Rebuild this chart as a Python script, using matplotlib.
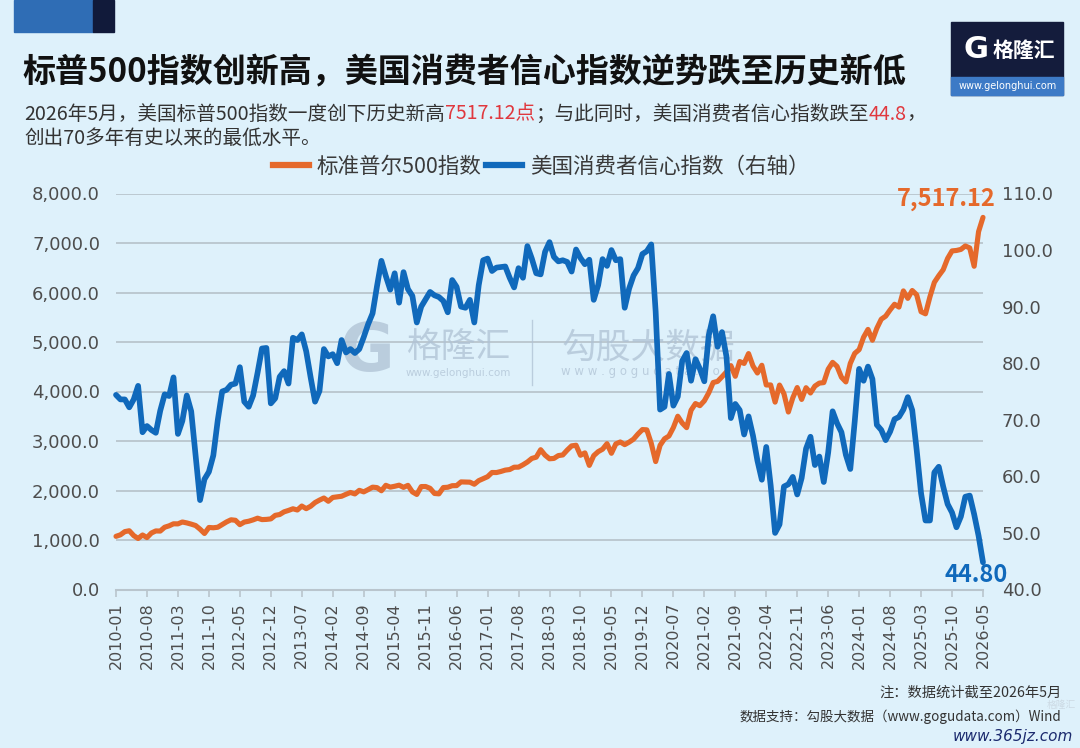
import matplotlib
matplotlib.use('Agg')
import matplotlib.pyplot as plt
from matplotlib.patches import Rectangle
from matplotlib.lines import Line2D

# ---------------- data ----------------
months = [f"{2010 + i // 12}-{i % 12 + 1:02d}" for i in range(197)]
tick_labels = months[::7]

sp500 = [
    1073.87, 1104.49, 1169.43, 1186.69, 1089.41, 1030.71, 1101.60, 1049.33, 1141.20, 1183.26, 1180.55, 1257.64,
    1286.12, 1327.22, 1325.83, 1363.61, 1345.20, 1320.64, 1292.28, 1218.89, 1131.42, 1253.30, 1246.96, 1257.60,
    1312.41, 1365.68, 1408.47, 1397.91, 1310.33, 1362.16, 1379.32, 1406.58, 1440.67, 1412.16, 1416.18, 1426.19,
    1498.11, 1514.68, 1569.19, 1597.57, 1630.74, 1606.28, 1685.73, 1632.97, 1681.55, 1756.54, 1805.81, 1848.36,
    1782.59, 1859.45, 1872.34, 1883.95, 1923.57, 1960.23, 1930.67, 2003.37, 1972.29, 2018.05, 2067.56, 2058.90,
    1994.99, 2104.50, 2067.89, 2085.51, 2107.39, 2063.11, 2103.84, 1972.18, 1920.03, 2079.36, 2080.41, 2043.94,
    1940.24, 1932.23, 2059.74, 2065.30, 2096.95, 2098.86, 2173.60, 2170.95, 2168.27, 2126.15, 2198.81, 2238.83,
    2278.87, 2363.64, 2362.72, 2384.20, 2411.80, 2423.41, 2470.30, 2471.65, 2519.36, 2575.26, 2647.58, 2673.61,
    2823.81, 2713.83, 2640.87, 2648.05, 2705.27, 2718.37, 2816.29, 2901.52, 2913.98, 2711.74, 2760.17, 2506.85,
    2704.10, 2784.49, 2834.40, 2945.83, 2752.06, 2941.76, 2980.38, 2926.46, 2976.74, 3037.56, 3140.98, 3230.78,
    3225.52, 2954.22, 2584.59, 2912.43, 3044.31, 3100.29, 3271.12, 3500.31, 3363.00, 3269.96, 3621.63, 3756.07,
    3714.24, 3811.15, 3972.89, 4181.17, 4204.11, 4297.50, 4395.26, 4522.68, 4307.54, 4605.38, 4567.00, 4766.18,
    4515.55, 4373.94, 4530.41, 4131.93, 4132.15, 3785.38, 4130.29, 3955.00, 3585.62, 3871.98, 4080.11, 3839.50,
    4076.60, 3970.15, 4109.31, 4169.48, 4179.83, 4450.38, 4588.96, 4507.66, 4288.05, 4193.80, 4567.80, 4769.83,
    4845.65, 5096.27, 5254.35, 5035.69, 5277.51, 5460.48, 5522.30, 5648.40, 5762.48, 5705.45, 6032.38, 5881.63,
    6040.53, 5954.50, 5611.85, 5569.06, 5911.69, 6204.95, 6339.39, 6460.26, 6688.46, 6840.20, 6849.09, 6870.00,
    6940.00, 6900.00, 6530.00, 7230.00, 7517.12,
]

sentiment = [
    74.4, 73.6, 73.6, 72.2, 73.6, 76.0, 67.8, 68.9, 68.2, 67.7, 71.6, 74.5,
    74.2, 77.5, 67.5, 69.8, 74.3, 71.5, 63.7, 55.8, 59.5, 60.8, 63.7, 69.9,
    75.0, 75.3, 76.2, 76.4, 79.3, 73.2, 72.3, 74.3, 78.3, 82.6, 82.7, 72.9,
    73.8, 77.6, 78.6, 76.4, 84.5, 84.1, 85.1, 82.1, 77.5, 73.2, 75.1, 82.5,
    81.2, 81.6, 80.0, 84.1, 81.9, 82.5, 81.8, 82.5, 84.6, 86.9, 88.8, 93.6,
    98.1, 95.4, 93.0, 95.9, 90.7, 96.1, 93.1, 91.9, 87.2, 90.0, 91.3, 92.6,
    92.0, 91.7, 91.0, 89.0, 94.7, 93.5, 90.0, 89.8, 91.2, 87.2, 93.8, 98.2,
    98.5, 96.3, 96.9, 97.0, 97.1, 95.1, 93.4, 96.8, 95.1, 100.7, 98.5, 95.9,
    95.7, 99.7, 101.4, 98.8, 98.0, 98.2, 97.9, 96.2, 100.1, 98.6, 97.5, 98.3,
    91.2, 93.8, 98.4, 97.2, 100.0, 98.2, 98.4, 89.8, 93.2, 95.5, 96.8, 99.3,
    99.8, 101.0, 89.1, 71.8, 72.3, 78.1, 72.5, 74.1, 80.4, 81.8, 76.9, 80.7,
    79.0, 76.8, 84.9, 88.3, 82.9, 85.5, 81.2, 70.3, 72.8, 71.7, 67.4, 70.6,
    67.2, 62.8, 59.4, 65.2, 58.4, 50.0, 51.5, 58.2, 58.6, 59.9, 56.8, 59.7,
    64.9, 67.0, 62.0, 63.5, 59.0, 64.2, 71.5, 69.4, 67.8, 63.8, 61.3, 69.7,
    79.0, 76.9, 79.4, 77.2, 69.1, 68.2, 66.4, 67.9, 70.1, 70.5, 71.8, 74.0,
    71.7, 64.7, 57.0, 52.2, 52.2, 60.7, 61.7, 58.2, 55.1, 53.6, 51.0, 52.9,
    56.4, 56.6, 53.3, 49.5, 44.8,
]

left_ticks = [0, 1000, 2000, 3000, 4000, 5000, 6000, 7000, 8000]
right_ticks = [40, 50, 60, 70, 80, 90, 100, 110]

series_names = ["标准普尔500指数", "美国消费者信心指数（右轴）"]

# ---------------- style ----------------
BG = "#def1fb"
ORANGE = "#e5692b"
BLUE = "#1069bb"
GRID = "#b9c5cd"
TICKC = "#4d4d4d"
CJK = ["Noto Sans CJK SC", "DejaVu Sans"]

W, H = 1080, 748
fig = plt.figure(figsize=(W / 100, H / 100), dpi=100, facecolor=BG)


def fx(px):
    return px / W


def fy(py):
    return 1 - py / H


# decorative corner blocks
fig.patches.append(Rectangle((fx(14), fy(32)), fx(93) - fx(14), 32 / H,
                             transform=fig.transFigure, color="#2f6db5", zorder=1))
fig.patches.append(Rectangle((fx(93), fy(32)), fx(114) - fx(93), 32 / H,
                             transform=fig.transFigure, color="#111a3a", zorder=1))

# logo
fig.patches.append(Rectangle((fx(951), fy(95)), fx(1063) - fx(951), (95 - 22) / H,
                             transform=fig.transFigure, color="#141c3c", zorder=1))
fig.patches.append(Rectangle((fx(951), fy(95)), fx(1063) - fx(951), (95 - 77) / H,
                             transform=fig.transFigure, color="#3d7ac6", zorder=2))
fig.text(fx(976), fy(50), "G", color="white", fontsize=22, fontweight="bold",
         family="DejaVu Sans", ha="center", va="center", zorder=3)
fig.text(fx(1024), fy(50), "格隆汇", color="white", fontsize=15, fontweight="bold",
         family=CJK, ha="center", va="center", zorder=3)
fig.text(fx(1008), fy(86), "www.gelonghui.com", color="white", fontsize=7,
         family="DejaVu Sans", ha="center", va="center", zorder=3)

# title
fig.text(fx(22), fy(73), "标普500指数创新高，美国消费者信心指数逆势跌至历史新低",
         fontsize=23.8, fontweight="bold", family=CJK, color="#111111",
         ha="left", va="center")

renderer = fig.canvas.get_renderer()


def rich(x_px, y_px, parts, **kw):
    x = x_px
    for s, c in parts:
        t = fig.text(fx(x), fy(y_px), s, color=c, **kw)
        x += t.get_window_extent(renderer).width


SUBC = "#333333"
RED = "#e0383e"
rich(24, 114, [("2026年5月，美国标普500指数一度创下历史新高", SUBC), ("7517.12点", RED),
               ("；与此同时，美国消费者信心指数跌至", SUBC), ("44.8", RED), ("，", SUBC)],
     fontsize=14.1, family=CJK, va="center", ha="left")
rich(24, 138, [("创出70多年有史以来的最低水平。", SUBC)],
     fontsize=14.1, family=CJK, va="center", ha="left")

# ---------------- axes ----------------
ax = fig.add_axes([fx(116), fy(589.5), fx(983) - fx(116), (589.5 - 193.5) / H])
ax.set_facecolor(BG)
ax.patch.set_alpha(0)
x = list(range(len(months)))

ax.plot(x, sp500, color=ORANGE, lw=3.7, solid_joinstyle="round", solid_capstyle="round",
        zorder=3, clip_on=False)
ax.set_xlim(0, len(months) - 1)
ax.set_ylim(left_ticks[0], left_ticks[-1])
ax.set_yticks(left_ticks)
ax.set_yticklabels([f"{v:,.1f}" for v in left_ticks])
ax.grid(axis="y", color=GRID, lw=1.3, zorder=0)
ax.set_axisbelow(True)
ax.set_xticks(x[::7])
ax.set_xticklabels(tick_labels, rotation=90, fontsize=11.5, color=TICKC, family="DejaVu Sans")
ax.tick_params(axis="x", length=5, width=1.2, color=GRID, pad=4)
ax.tick_params(axis="y", length=0, pad=11.5, labelsize=13, labelcolor=TICKC)
for s in ["left", "right", "top"]:
    ax.spines[s].set_visible(False)
ax.spines["bottom"].set_color(GRID)
ax.spines["bottom"].set_linewidth(1.5)

# watermark (under lines)
WM = "#afc2d4"
ax.text(fx(367), fy(352), "G", transform=fig.transFigure, fontsize=48, fontweight="bold",
        family="DejaVu Sans", color=WM, alpha=0.75, ha="center", va="center", zorder=1)
ax.text(fx(458), fy(348), "格隆汇", transform=fig.transFigure, fontsize=25,
        family=CJK, color=WM, alpha=0.75, ha="center", va="center", zorder=1)
ax.text(fx(458), fy(373), "www.gelonghui.com", transform=fig.transFigure, fontsize=7.5,
        family="DejaVu Sans", color=WM, alpha=0.75, ha="center", va="center", zorder=1)
ax.add_line(Line2D([fx(532), fx(532)], [fy(320), fy(385)], transform=fig.transFigure,
                   color=WM, alpha=0.75, lw=1, zorder=1))
ax.text(fx(648), fy(348), "勾股大数据", transform=fig.transFigure, fontsize=25,
        family=CJK, color=WM, alpha=0.75, ha="center", va="center", zorder=1)
ax.text(fx(648), fy(372), "w w w . g o g u d a t a . c o m", transform=fig.transFigure, fontsize=8.5,
        family="DejaVu Sans", color=WM, alpha=0.75, ha="center", va="center", zorder=1)

ax2 = ax.twinx()
ax2.plot(x, sentiment, color=BLUE, lw=4.1, solid_joinstyle="round", solid_capstyle="round",
         zorder=3, clip_on=False)
ax2.set_ylim(right_ticks[0], right_ticks[-1])
ax2.set_yticks(right_ticks)
ax2.set_yticklabels([f"{v:.1f}" for v in right_ticks])
ax2.tick_params(axis="y", length=0, pad=13.5, labelsize=13, labelcolor=TICKC)
for s in ["left", "right", "top", "bottom"]:
    ax2.spines[s].set_visible(False)
for lab in ax.get_yticklabels() + ax2.get_yticklabels():
    lab.set_family("DejaVu Sans")

# end labels
ax.annotate(f"{sp500[-1]:,.2f}", xy=(x[-1], sp500[-1]), xytext=(13, 18),
            textcoords="offset pixels", ha="right", va="center", color=ORANGE,
            fontsize=17, fontweight="bold", family=CJK, annotation_clip=False, zorder=5)
ax2.annotate(f"{sentiment[-1]:.2f}", xy=(x[-1], sentiment[-1]), xytext=(25, -13),
             textcoords="offset pixels", ha="right", va="center", color=BLUE,
             fontsize=17, fontweight="bold", family=CJK, annotation_clip=False, zorder=5)

# legend
handles = [Line2D([], [], color=ORANGE, lw=4.5), Line2D([], [], color=BLUE, lw=4.5)]
fig.legend(handles, series_names, loc="center", bbox_to_anchor=(fx(541), fy(167)),
           ncol=2, frameon=False, handlelength=1.7, handletextpad=0.35, columnspacing=0.2,
           prop={"family": CJK, "size": 15.5}, labelcolor="#3a3a3a")

# footer
fig.text(fx(1062), fy(693), "注：数据统计截至2026年5月", fontsize=10.3, family=CJK,
         color="#333333", ha="right", va="center")
fig.text(fx(1061), fy(717), "数据支持：勾股大数据（www.gogudata.com）Wind", fontsize=9.7,
         family=CJK, color="#333333", ha="right", va="center")
fig.text(fx(1076), fy(705), "格隆汇", fontsize=7, family=CJK, color="#c8d4de",
         ha="right", va="center", alpha=0.8)
fig.text(fx(1073), fy(737), "www.365jz.com", fontsize=11, family="DejaVu Sans",
         color="#1b2a6e", ha="right", va="center", fontstyle="italic")

fig.savefig("out.png", dpi=100, facecolor=BG)
